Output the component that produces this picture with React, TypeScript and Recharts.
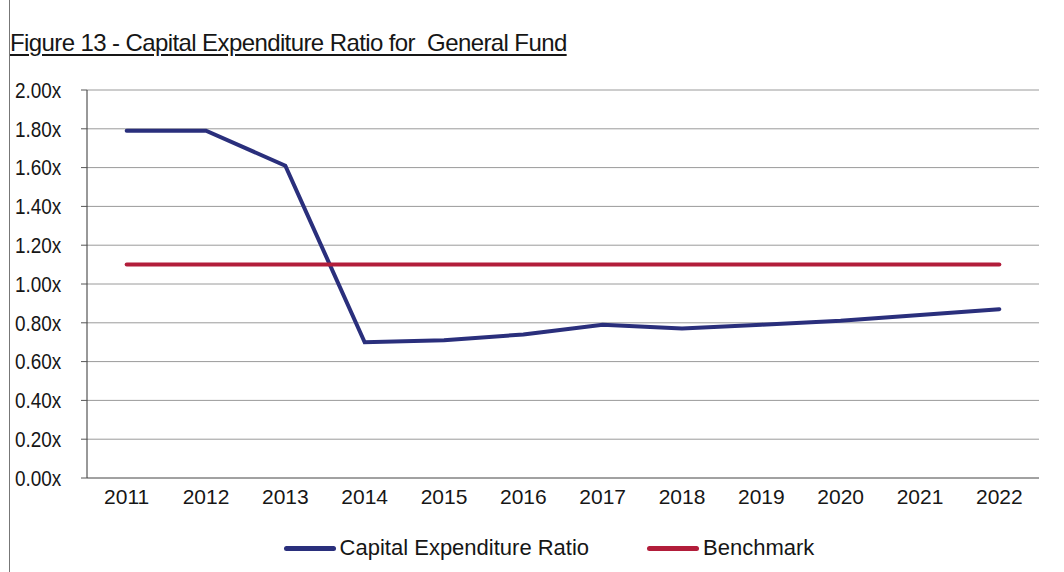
import React from 'react';
import { LineChart, Line, XAxis, YAxis, CartesianGrid, Legend } from 'recharts';

const years = ['2011', '2012', '2013', '2014', '2015', '2016', '2017', '2018', '2019', '2020', '2021', '2022'];
const capexRatio = [1.79, 1.79, 1.61, 0.70, 0.71, 0.74, 0.79, 0.77, 0.79, 0.81, 0.84, 0.87];
const benchmark = [1.10, 1.10, 1.10, 1.10, 1.10, 1.10, 1.10, 1.10, 1.10, 1.10, 1.10, 1.10];
const yTicks = [0, 0.2, 0.4, 0.6, 0.8, 1.0, 1.2, 1.4, 1.6, 1.8, 2.0];
const edgeTicks = [0, 1, 2, 3, 4, 5, 6, 7, 8, 9, 10, 11, 12];
const seriesOrder = ['Capital Expenditure Ratio', 'Benchmark'];

const data = years.map((y, i) => ({ year: y, capex: capexRatio[i], bench: benchmark[i] }));

const FONT = "'Liberation Sans', Arial, sans-serif";
const TEXT = '#161616';

const YTick = (props: any) => {
  const { y, payload } = props;
  return (
    <g transform={`translate(15, ${y}) scale(0.88, 1)`}>
      <text x={0} y={0} dy={7.8} textAnchor="start" fontFamily={FONT} fontSize={21.5} fill={TEXT}>
        {Number(payload.value).toFixed(2) + 'x'}
      </text>
    </g>
  );
};

const XTick = (props: any) => {
  const { x, y, payload } = props;
  return (
    <text x={x} y={y} dy={16.5} textAnchor="middle" fontFamily={FONT} fontSize={21} fill={TEXT}>
      {payload.value}
    </text>
  );
};

const LegendContent = (props: any) => {
  const payload = [...(props.payload || [])].sort(
    (a: any, b: any) => seriesOrder.indexOf(a.value) - seriesOrder.indexOf(b.value)
  );
  return (
    <div style={{ display: 'flex', justifyContent: 'center', alignItems: 'center', paddingLeft: 59, paddingTop: 6, fontFamily: FONT, fontSize: 22, color: TEXT, lineHeight: '26px' }}>
      {payload.map((p: any, i: number) => (
        <div key={i} style={{ display: 'flex', alignItems: 'center', marginRight: i === 0 ? 58 : 0 }}>
          <span style={{ display: 'inline-block', width: 52, height: 5, background: p.color, borderRadius: 3, marginRight: 4 }} />
          <span>{p.value}</span>
        </div>
      ))}
    </div>
  );
};

export default function App() {
  return (
    <div style={{ position: 'absolute', left: 0, top: 0, width: 1064, height: 572, background: '#fff', overflow: 'hidden' }}>
      <div style={{ position: 'absolute', left: 9, top: 0, width: 1, height: 572, background: '#777' }} />
      <div style={{ position: 'absolute', left: 10, top: 29, fontFamily: FONT, fontSize: 24, letterSpacing: -0.6, color: TEXT, textDecoration: 'underline', textUnderlineOffset: 3, whiteSpace: 'pre', lineHeight: '28px' }}>
        Figure 13 - Capital Expenditure Ratio for  General Fund
      </div>
      <LineChart width={1064} height={572} data={data} margin={{ top: 90, right: 25, left: 0, bottom: 8 }}>
        <CartesianGrid horizontal={true} vertical={false} stroke="#9a9a9a" strokeWidth={1} xAxisId="b" />
        <XAxis
          xAxisId="a"
          type="number"
          domain={[0, 12]}
          ticks={edgeTicks}
          tick={false}
          height={1}
          axisLine={{ stroke: '#777' }}
          tickLine={{ stroke: '#777' }}
          tickSize={6}
        />
        <XAxis
          xAxisId="b"
          dataKey="year"
          scale="band"
          height={50}
          axisLine={false}
          tickLine={false}
          tick={<XTick />}
          interval={0}
        />
        <YAxis
          width={87}
          domain={[0, 2]}
          ticks={yTicks}
          axisLine={{ stroke: '#333' }}
          tickLine={{ stroke: '#555' }}
          tickSize={6}
          tick={<YTick />}
          interval={0}
        />
        <Legend verticalAlign="bottom" height={35} content={<LegendContent />} />
        <Line xAxisId="b" dataKey="capex" name="Capital Expenditure Ratio" stroke="#2a2f7c" strokeWidth={4} strokeLinecap="round" dot={false} isAnimationActive={false} />
        <Line xAxisId="b" dataKey="bench" name="Benchmark" stroke="#b21d3a" strokeWidth={4} strokeLinecap="round" dot={false} isAnimationActive={false} />
      </LineChart>
    </div>
  );
}
